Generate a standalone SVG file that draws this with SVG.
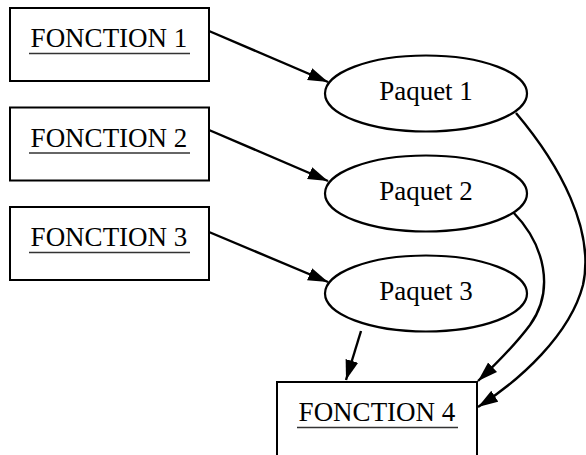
<svg xmlns="http://www.w3.org/2000/svg" width="586" height="455" viewBox="0 0 586 455">
<defs>
<marker id="ah" markerUnits="userSpaceOnUse" markerWidth="22" markerHeight="16" refX="20" refY="6.5" orient="auto">
<path d="M0,0 L20,6.5 L0,13 z" fill="#000"/>
</marker>
<style>
.box{fill:#fff;stroke:#000;stroke-width:2}
.ell{fill:#fff;stroke:#000;stroke-width:2.2}
.t{font-family:"Liberation Serif","Times New Roman",serif;font-size:27px;fill:#000;text-anchor:middle}
.ul{stroke:#333;stroke-width:1.5}
.e{fill:none;stroke:#000;stroke-width:2.4;marker-end:url(#ah)}
</style>
</defs>
<rect width="586" height="455" fill="#fff"/>
<g id="connectors">
<path class="e" d="M209,31 L328,82"/>
<path class="e" d="M209,130 L328,181"/>
<path class="e" d="M209,232 L328,282"/>
<path class="e" d="M361,331 L346,380"/>
<path class="e" d="M513,212 C545,245 555,290 530,325 C515,345 495,365 478,381"/>
<path class="e" d="M516,113 C560,165 595,230 583,285 C570,335 520,380 478,407"/>
</g>
<g id="f1">
<rect class="box" x="10" y="8" width="199" height="73"/>
<text class="t" x="109" y="47">FONCTION 1</text>
<line class="ul" x1="29" y1="53.5" x2="190" y2="53.5"/>
</g>
<g id="f2">
<rect class="box" x="10" y="107.5" width="199" height="73"/>
<text class="t" x="109" y="146.5">FONCTION 2</text>
<line class="ul" x1="29" y1="153" x2="190" y2="153"/>
</g>
<g id="f3">
<rect class="box" x="10" y="207" width="199" height="73"/>
<text class="t" x="109" y="246">FONCTION 3</text>
<line class="ul" x1="29" y1="252.5" x2="190" y2="252.5"/>
</g>
<g id="p1">
<ellipse class="ell" cx="426" cy="93.5" rx="101" ry="38"/>
<text class="t" x="426" y="99.5">Paquet 1</text>
</g>
<g id="p2">
<ellipse class="ell" cx="426" cy="193.5" rx="101" ry="38"/>
<text class="t" x="426" y="199.5">Paquet 2</text>
</g>
<g id="p3">
<ellipse class="ell" cx="426" cy="293.5" rx="101" ry="38"/>
<text class="t" x="426" y="299.5">Paquet 3</text>
</g>
<g id="f4">
<rect class="box" x="277" y="382" width="200" height="90"/>
<text class="t" x="377" y="421">FONCTION 4</text>
<line class="ul" x1="297" y1="427.5" x2="458" y2="427.5"/>
</g>
</svg>
